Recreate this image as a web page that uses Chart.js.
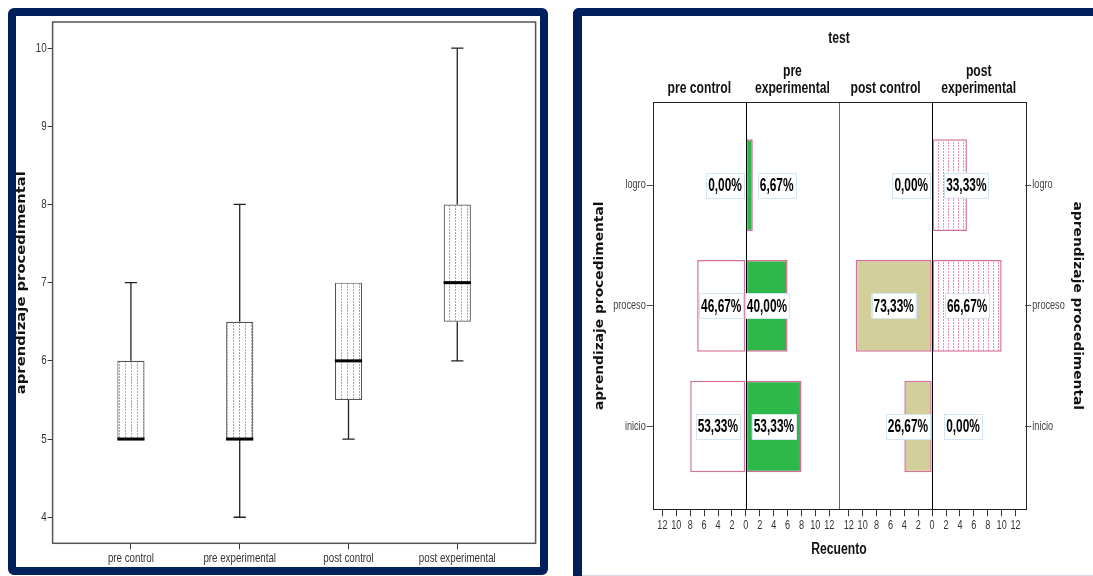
<!DOCTYPE html>
<html lang="es">
<head>
<meta charset="utf-8">
<title>aprendizaje procedimental</title>
<script src="https://cdn.jsdelivr.net/npm/chart.js@4.4.1/dist/chart.umd.min.js"></script>
<style>
  html, body { margin: 0; padding: 0; background: #fff; width: 1093px; height: 576px; overflow: hidden; }
  .panel { position: absolute; box-sizing: border-box; border: 8px solid #00205b; background: #fff; }
  #leftPanel { left: 8px; top: 8px; width: 540px; height: 567px; border-radius: 6px; }
  #rightPanel { left: 573px; top: 8px; width: 560px; height: 600px; border-width: 8px 0 0 9px; border-radius: 6px 0 0 0; }
  #boxCanvas { position: absolute; left: 16px; top: 16px; }
  #pyrCanvas { position: absolute; left: 582px; top: 16px; }
  #rightBottom { position: absolute; left: 582px; top: 575px; width: 511px; height: 1px; background: #d6dae4; }
</style>
</head>
<body>
<div class="panel" id="leftPanel"></div>
<div class="panel" id="rightPanel"></div>
<div id="rightBottom"></div>
<canvas id="boxCanvas" width="524" height="551"></canvas>
<canvas id="pyrCanvas" width="511" height="560"></canvas>
<script>
// ---- box plot: aprendizaje procedimental by test group ----
const boxGroups = ['pre control', 'pre experimental', 'post control', 'post experimental'];
const boxMin    = [5, 4, 5, 6];
const boxQ1     = [5, 5, 5.5, 6.5];
const boxMedian = [5, 5, 6, 7];
const boxQ3     = [6, 6.5, 7, 8];
const boxMax    = [7, 8, 7, 10];
const scoreTicks = [4, 5, 6, 7, 8, 9, 10];

// ---- population pyramid: counts per level and test ----
const levels = ['logro', 'proceso', 'inicio'];            // top to bottom
const preControl       = [0, 7, 8];
const preExperimental  = [1, 6, 8];
const postControl      = [0, 11, 4];
const postExperimental = [5, 10, 0];
const countTicks = [-12, -10, -8, -6, -4, -2, 0, 2, 4, 6, 8, 10, 12];

const SANS = '"Liberation Sans", Arial, "Noto Sans", sans-serif';
const WIDE = '"DejaVu Sans", Verdana, sans-serif';
Chart.defaults.font.family = SANS;

function dotPattern(color, w, h) {
  const c = document.createElement('canvas');
  c.width = w; c.height = h;
  const g = c.getContext('2d');
  g.fillStyle = '#ffffff';
  g.fillRect(0, 0, w, h);
  g.fillStyle = color;
  g.fillRect(1, 0, 1, 2);
  return g.createPattern(c, 'repeat');
}

// text drawn narrower than the face's natural width
function squeezed(ctx, text, x, y, sx, align) {
  ctx.save();
  ctx.translate(x, y);
  ctx.scale(sx, 1);
  ctx.textAlign = align || 'center';
  ctx.textBaseline = 'middle';
  ctx.fillText(text, 0, 0);
  ctx.restore();
}

function rotatedTitle(ctx, text, x, y, angle, stretch) {
  ctx.save();
  ctx.translate(x, y);
  ctx.rotate(angle);
  ctx.scale(stretch, 1);
  ctx.font = 'bold 12px ' + WIDE;
  ctx.fillStyle = '#111';
  ctx.textAlign = 'center';
  ctx.textBaseline = 'middle';
  ctx.fillText(text, 0, 0);
  ctx.restore();
}

// tick labels for a scale, drawn next to its tick marks
function drawTickLabels(ctx, scale, fmt, font, sx, color) {
  ctx.save();
  ctx.font = font;
  ctx.fillStyle = color;
  const tl = scale.options.grid.tickLength;
  scale.ticks.forEach(t => {
    const p = scale.getPixelForValue(t.value);
    const s = fmt(t.value);
    if (scale.isHorizontal()) {
      squeezed(ctx, s, p, scale.top + tl + 9, sx, 'center');
    } else if (scale.position === 'left') {
      squeezed(ctx, s, scale.right - tl - 1, p, sx, 'right');
    } else {
      squeezed(ctx, s, scale.left + tl + 1, p, sx, 'left');
    }
  });
  ctx.restore();
}

// whiskers, medians, frame, tick labels and axis title of the box plot
const boxDecor = {
  id: 'boxDecor',
  beforeDatasetsDraw(chart) {
    const { ctx, chartArea: a } = chart;
    ctx.save();
    ctx.strokeStyle = '#555';
    ctx.lineWidth = 1.5;
    ctx.strokeRect(a.left, a.top, a.right - a.left, a.bottom - a.top);
    ctx.restore();
    drawTickLabels(ctx, chart.scales.x, v => boxGroups[v], '13px ' + SANS, 0.75, '#333');
    drawTickLabels(ctx, chart.scales.y, v => String(v), '13px ' + SANS, 0.75, '#333');
    rotatedTitle(ctx, 'aprendizaje procedimental', 5.5, (a.top + a.bottom) / 2, -Math.PI / 2, 1.23);
  },
  afterDatasetsDraw(chart) {
    const { ctx } = chart;
    const xs = chart.scales.x, ys = chart.scales.y;
    const meta = chart.getDatasetMeta(0);
    ctx.save();
    boxGroups.forEach((g, i) => {
      const x = xs.getPixelForValue(i);
      const bw = meta.data[i].width;
      const cap = bw * 0.45;
      const yQ1 = ys.getPixelForValue(boxQ1[i]);
      const yQ3 = ys.getPixelForValue(boxQ3[i]);
      const yMin = ys.getPixelForValue(boxMin[i]);
      const yMax = ys.getPixelForValue(boxMax[i]);
      ctx.strokeStyle = '#222';
      ctx.lineWidth = 1.3;
      ctx.beginPath();
      if (boxMax[i] > boxQ3[i]) {
        ctx.moveTo(x, yQ3); ctx.lineTo(x, yMax);
        ctx.moveTo(x - cap / 2, yMax); ctx.lineTo(x + cap / 2, yMax);
      }
      if (boxMin[i] < boxQ1[i]) {
        ctx.moveTo(x, yQ1); ctx.lineTo(x, yMin);
        ctx.moveTo(x - cap / 2, yMin); ctx.lineTo(x + cap / 2, yMin);
      }
      ctx.stroke();
      const yMed = ys.getPixelForValue(boxMedian[i]);
      ctx.strokeStyle = '#000';
      ctx.lineWidth = 3;
      ctx.beginPath();
      ctx.moveTo(x - bw / 2, yMed); ctx.lineTo(x + bw / 2, yMed);
      ctx.stroke();
    });
    ctx.restore();
  }
};

new Chart(document.getElementById('boxCanvas'), {
  type: 'bar',
  data: {
    datasets: [{
      data: boxGroups.map((g, i) => ({ x: i, y: [boxQ1[i], boxQ3[i]] })),
      backgroundColor: dotPattern('#a8a8a8', 6, 3),
      borderColor: '#555',
      borderWidth: 1.2,
      borderSkipped: false,
      barPercentage: 0.25,
      categoryPercentage: 1
    }]
  },
  options: {
    responsive: false,
    animation: false,
    events: [],
    devicePixelRatio: 1,
    layout: { padding: { top: 6, right: 4.4, bottom: 0, left: 0 } },
    plugins: { legend: { display: false }, tooltip: { enabled: false } },
    scales: {
      x: {
        type: 'linear', min: -0.72, max: 3.72, offset: false,
        afterBuildTicks: s => { s.ticks = boxGroups.map((g, i) => ({ value: i })); },
        afterFit: s => { s.height = 23.7; },
        ticks: { display: false },
        grid: { offset: false, drawOnChartArea: false, tickLength: 6, tickColor: '#333' },
        border: { display: false }
      },
      y: {
        type: 'linear', min: 3.667, max: 10.333,
        afterBuildTicks: s => { s.ticks = scoreTicks.map(v => ({ value: v })); },
        afterFit: s => { s.width = 36.6; },
        ticks: { display: false },
        grid: { drawOnChartArea: false, tickLength: 5, tickColor: '#333' },
        border: { display: false }
      }
    }
  },
  plugins: [boxDecor]
});

// ---- pyramid ----
const groupTotal = arr => arr.reduce((s, v) => s + v, 0);
const pctText = (v, total) => (v / total * 100).toFixed(2).replace('.', ',') + '%';
const PINK = '#d4709a';
const indexOf = i => levels.length - 1 - i;

function pyramidSet(label, counts, sign, axis, fill) {
  return {
    label,
    xAxisID: axis,
    yAxisID: 'y',
    data: counts.map((v, i) => ({ x: sign * v, y: indexOf(i) })),
    counts, sign,
    backgroundColor: fill,
    borderColor: PINK,
    borderWidth: counts.map(v => (v === 0 ? 0 : 1.5)),
    borderSkipped: false,
    grouped: false,
    barPercentage: 0.76,
    categoryPercentage: 1
  };
}

const pyrDecor = {
  id: 'pyrDecor',
  afterDatasetsDraw(chart) {
    const { ctx, chartArea: a } = chart;
    const halves = [chart.scales.xPre, chart.scales.xPost];
    ctx.save();
    // centre lines of each pyramid
    ctx.strokeStyle = '#000';
    ctx.lineWidth = 1;
    halves.forEach(s => {
      const z = Math.round(s.getPixelForValue(0)) + 0.5;
      ctx.beginPath(); ctx.moveTo(z, a.top); ctx.lineTo(z, a.bottom); ctx.stroke();
    });
    // divider between pre and post
    ctx.strokeStyle = '#666';
    const d = Math.round(chart.scales.xPre.right) + 0.5;
    ctx.beginPath(); ctx.moveTo(d, a.top); ctx.lineTo(d, a.bottom); ctx.stroke();
    // frame
    ctx.strokeStyle = '#222';
    ctx.strokeRect(Math.round(a.left) + 0.5, Math.round(a.top) + 0.5,
                   Math.round(a.right - a.left), Math.round(a.bottom - a.top));

    // tick labels
    halves.forEach(s => drawTickLabels(ctx, s, v => String(Math.abs(v)), '13px ' + SANS, 0.70, '#333'));
    [chart.scales.y, chart.scales.y2].forEach(s =>
      drawTickLabels(ctx, s, v => levels[indexOf(v)], '12px ' + SANS, 0.76, '#444'));

    // percentage labels
    ctx.font = 'bold 18px ' + SANS;
    const sx = 0.66;
    chart.data.datasets.forEach((ds, di) => {
      const meta = chart.getDatasetMeta(di);
      const scale = chart.scales[ds.xAxisID];
      const zero = scale.getPixelForValue(0);
      const total = groupTotal(ds.counts);
      meta.data.forEach((bar, i) => {
        const text = pctText(ds.counts[i], total);
        const w = ctx.measureText(text).width * sx + 4;
        const h = 25;
        const barW = Math.abs(bar.x - bar.base);
        let cx = (bar.x + bar.base) / 2;
        if (w > barW + 4) cx = ds.sign < 0 ? zero - 2 - w / 2 : zero + 12 + w / 2;
        const cy = bar.y;
        ctx.fillStyle = '#fff';
        ctx.fillRect(cx - w / 2, cy - h / 2, w, h);
        ctx.strokeStyle = '#d5e4f3';
        ctx.lineWidth = 1;
        ctx.strokeRect(Math.round(cx - w / 2) + 0.5, Math.round(cy - h / 2) + 0.5, Math.round(w), h);
        ctx.fillStyle = '#000';
        squeezed(ctx, text, cx, cy + 1, sx);
      });
    });

    // titles
    ctx.fillStyle = '#111';
    ctx.font = 'bold 16px ' + SANS;
    const hs = 0.76;
    const mid = (a.left + a.right) / 2;
    squeezed(ctx, 'test', mid, 22.3, hs);
    squeezed(ctx, 'Recuento', mid, 534, hs);
    const heads = [
      [halves[0], -1, boxGroups[0]], [halves[0], 1, boxGroups[1]],
      [halves[1], -1, boxGroups[2]], [halves[1], 1, boxGroups[3]]
    ];
    heads.forEach(([s, side, name]) => {
      const z = s.getPixelForValue(0);
      const edge = side < 0 ? s.left : s.right;
      const cx = (z + edge) / 2;
      const room = Math.abs(edge - z) - 4;
      let lines = [name];
      if (ctx.measureText(name).width * hs > room) {
        const k = name.indexOf(' ');
        lines = [name.slice(0, k), name.slice(k + 1)];
      }
      lines.forEach((t, j) => squeezed(ctx, t, cx, 73 - (lines.length - 1 - j) * 17, hs));
    });
    rotatedTitle(ctx, 'aprendizaje procedimental', 18, (a.top + a.bottom) / 2, -Math.PI / 2, 1.15);
    rotatedTitle(ctx, 'aprendizaje procedimental', chart.width - 16.3, (a.top + a.bottom) / 2, Math.PI / 2, 1.15);
    ctx.restore();
  }
};

const countAxis = () => ({
  axis: 'x', type: 'linear', min: -13.4, max: 13.4,
  position: 'bottom', stack: 'counts', stackWeight: 1,
  afterBuildTicks: s => { s.ticks = countTicks.map(v => ({ value: v })); },
  afterFit: s => { s.height = 66.7; },
  ticks: { display: false },
  grid: { drawOnChartArea: false, tickLength: 7, tickColor: '#333' },
  border: { display: false }
});
const levelAxis = pos => ({
  axis: 'y', type: 'linear', min: -0.686, max: 2.686, position: pos, offset: false,
  afterBuildTicks: s => { s.ticks = levels.map((l, i) => ({ value: i })); },
  afterFit: s => { s.width = pos === 'left' ? 70.7 : 67.7; },
  ticks: { display: false },
  grid: { offset: false, drawOnChartArea: false, tickLength: 6, tickColor: '#555' },
  border: { display: false }
});

new Chart(document.getElementById('pyrCanvas'), {
  type: 'bar',
  data: {
    datasets: [
      pyramidSet('pre control', preControl, -1, 'xPre', '#ffffff'),
      pyramidSet('pre experimental', preExperimental, 1, 'xPre', '#2eb84b'),
      pyramidSet('post control', postControl, -1, 'xPost', '#d3cf9b'),
      pyramidSet('post experimental', postExperimental, 1, 'xPost', dotPattern('#e88fb3', 5, 3))
    ]
  },
  options: {
    indexAxis: 'y',
    responsive: false,
    animation: false,
    events: [],
    devicePixelRatio: 1,
    layout: { padding: { top: 86.3, right: 0, bottom: 0, left: 0 } },
    plugins: { legend: { display: false }, tooltip: { enabled: false } },
    scales: {
      xPre: countAxis(),
      xPost: countAxis(),
      y: levelAxis('left'),
      y2: levelAxis('right')
    }
  },
  plugins: [pyrDecor]
});
</script>
</body>
</html>
